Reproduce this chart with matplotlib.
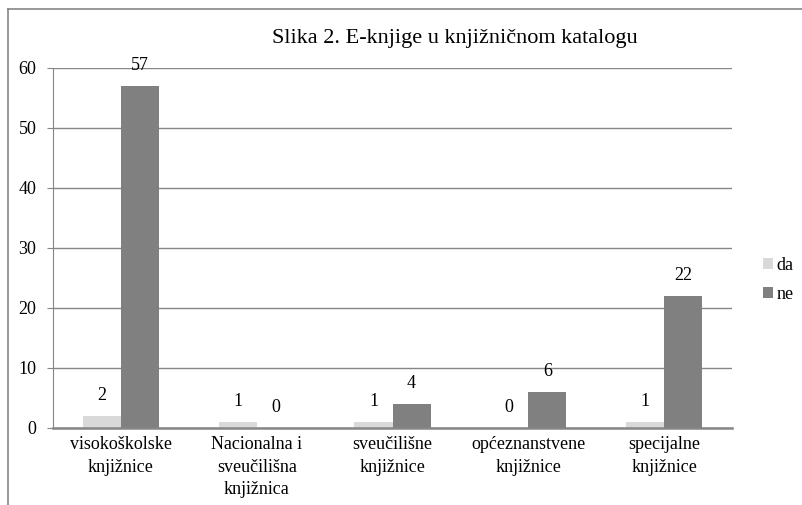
import matplotlib.pyplot as plt
import numpy as np
from matplotlib.lines import Line2D

# data
categories = ['visokoškolske\nknjižnice', 'Nacionalna i\nsveučilišna\nknjižnica',
              'sveučilišne\nknjižnice', 'općeznanstvene\nknjižnice', 'specijalne\nknjižnice']
da = [2, 1, 1, 0, 1]
ne = [57, 0, 4, 6, 22]
yticks = [0, 10, 20, 30, 40, 50, 60]

plt.rcParams['font.family'] = ['Liberation Serif', 'DejaVu Serif']

fig = plt.figure(figsize=(8.02, 5.05), dpi=100)
ax = fig.add_axes([53/802, 1-428/505, (732-53)/802, (428-68)/505])

grey = '#868686'
x = np.arange(len(categories))
w = 0.28
b1 = ax.bar(x - w/2, da, w, color='#d9d9d9', label='da', zorder=3)
b2 = ax.bar(x + w/2, ne, w, color='#808080', label='ne', zorder=3)

for bars, vals in ((b1, da), (b2, ne)):
    for r, v in zip(bars, vals):
        ax.annotate(str(v), (r.get_x() + r.get_width()/2, v), xytext=(0, 9),
                    textcoords='offset points', ha='center', va='bottom', fontsize=13)

ax.set_xlim(-0.5, len(categories) - 0.5)
ax.set_ylim(0, 60)
ax.set_yticks(yticks)
ax.set_xticks(x)
ax.set_xticklabels(categories, fontsize=13, linespacing=1.4)
ax.tick_params(axis='y', length=4, color=grey, pad=8, labelsize=13)
ax.tick_params(axis='x', length=0, pad=6)
ax.yaxis.grid(True, color=grey, linewidth=1, zorder=0)
for s in ('top', 'right'):
    ax.spines[s].set_visible(False)
ax.spines['left'].set_color(grey)
ax.spines['bottom'].set_color(grey)
ax.spines['bottom'].set_linewidth(1.8)
ax.spines['bottom'].set_zorder(4)

leg = fig.legend(handles=[b1, b2], labels=['da', 'ne'], loc='center left',
                 bbox_to_anchor=(747/802, 1-280/505), frameon=False, fontsize=13,
                 handlelength=0.55, handleheight=0.55, handletextpad=0.2, labelspacing=0.7)

fig.text(455/802, 1-39/505, 'Slika 2. E-knjige u knjižničnom katalogu', ha='center',
         va='center', fontsize=16)

# outer chart frame (cropped)
fig.add_artist(Line2D([8/802, 1], [1-9/505, 1-9/505], color=grey, linewidth=1.2))
fig.add_artist(Line2D([8/802, 8/802], [0, 1-9/505], color=grey, linewidth=1.2))

fig.savefig('out.png', dpi=100)
